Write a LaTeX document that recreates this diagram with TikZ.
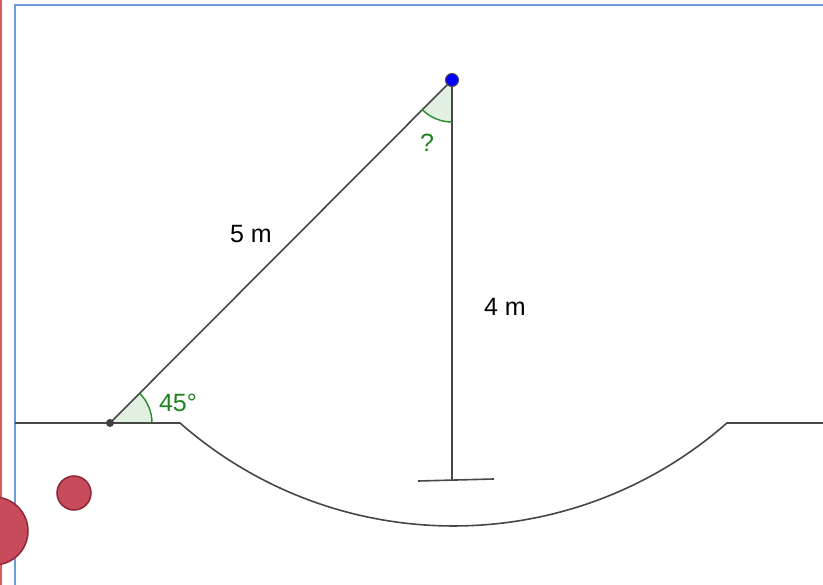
\documentclass[tikz,border=0pt]{standalone}
\usepackage{fontspec}
\setmainfont{Liberation Sans}
\definecolor{lin}{RGB}{70,70,70}
\definecolor{angtxt}{RGB}{30,130,30}
\definecolor{angfill}{RGB}{226,240,226}
\definecolor{angline}{RGB}{40,140,40}
\definecolor{frameblue}{RGB}{110,155,215}
\definecolor{redline}{RGB}{220,90,100}
\definecolor{redfill}{RGB}{200,75,92}
\definecolor{reddraw}{RGB}{140,40,55}
\tikzset{
  seg/.style={draw=lin, line width=1.6pt},
  angsec/.style={fill=angfill},
  angarc/.style={draw=angline, line width=1.4pt},
  lbl/.style={font=\fontsize{25}{30}\selectfont, inner sep=0pt},
  anglbl/.style={lbl, text=angtxt},
  ball/.style={circle, fill=redfill, draw=reddraw, line width=1.5pt, inner sep=0pt}
}
\begin{document}
\begin{tikzpicture}[x=1pt,y=-1pt]
\useasboundingbox (0,0) rectangle (823,585);
% frame lines
\draw[redline, line width=2pt] (0.8,0) -- (0.8,585);
\draw[frameblue, line width=2pt] (15,585) -- (15,5) -- (823,5);
% balls
\node[ball, minimum size=68pt] (big) at (-6,531) {};
\node[ball, minimum size=34pt] (small) at (74,493) {};
% ground
\coordinate (gl) at (15,423);
\coordinate (g1) at (180,423);
\coordinate (g2) at (727,423);
\coordinate (gr) at (823,423);
\draw[seg] (gl) -- (g1) arc[start angle=228.73, end angle=311.27, radius=414.6pt] -- (gr);
% points
\coordinate (Ac) at (110,423);
\coordinate (Bc) at (452,80);
% angle sectors
\fill[angsec] (Ac) -- ++(0:42pt) arc[start angle=0, end angle=45, radius=42pt] -- cycle;
\fill[angsec] (Bc) -- ++(225:42pt) arc[start angle=225, end angle=270, radius=42pt] -- cycle;
% pole and rope
\coordinate (P) at (452,480);
\coordinate (b1) at (418,481);
\coordinate (b2) at (494,479);
\draw[seg] (Ac) -- (Bc);
\draw[seg] (Bc) -- (P);
\draw[seg] (b1) -- (b2);
\draw[seg] (Ac) -- (g1);
% angle arcs
\draw[angarc] (Ac) ++(0:42pt) arc[start angle=0, end angle=45, radius=42pt];
\draw[angarc] (Bc) ++(225:42pt) arc[start angle=225, end angle=270, radius=42pt];
% points
\node[circle, fill=blue, draw=black!70, line width=1pt, minimum size=13pt, inner sep=0pt] (B) at (Bc) {};
\node[circle, fill=black!75, minimum size=8pt, inner sep=0pt] (A) at (Ac) {};
% labels
\node[lbl] (l5) at (251,234) {5 m};
\node[lbl] (l4) at (505,307) {4 m};
\node[anglbl] (l45) at (178,403) {45°};
\node[anglbl] (lq) at (427,143) {?};
\end{tikzpicture}
\end{document}
